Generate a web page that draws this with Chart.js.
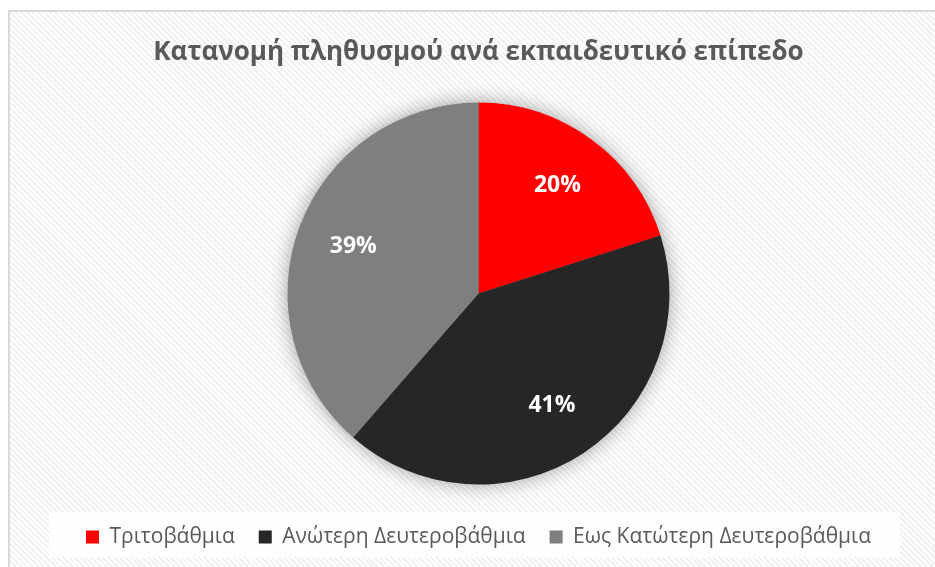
<!DOCTYPE html>
<html>
<head>
<meta charset="utf-8">
<script src="https://cdn.jsdelivr.net/npm/chart.js@4.4.1/dist/chart.umd.min.js"></script>
<style>
  html, body { margin: 0; padding: 0; }
  body {
    width: 935px; height: 567px; overflow: hidden; position: relative;
    background: #ffffff;
  }
  #frame {
    position: absolute; left: 8px; top: 10px; width: 940px; height: 570px;
    border-left: 2px solid #d9d9d9; border-top: 2px solid #d9d9d9;
    background: repeating-linear-gradient(45deg, #ffffff 0px, #ffffff 2px, #f1f1f1 2px, #f1f1f1 4px);
  }
  #wrap { position: absolute; left: 0; top: 0; width: 935px; height: 567px; }
</style>
</head>
<body>
<div id="frame"></div>
<div id="wrap"><canvas id="c" width="935" height="567"></canvas></div>
<script>
const chartTitle = 'Κατανομή πληθυσμού ανά εκπαιδευτικό επίπεδο';
const categories = ['Τριτοβάθμια', 'Ανώτερη Δευτεροβάθμια', 'Εως Κατώτερη Δευτεροβάθμια'];
const shares = [20.1, 41.3, 38.6];
const percentLabels = ['20%', '41%', '39%'];
const sliceColors = ['#ff0000', '#262626', '#7f7f7f'];

const pieExtras = {
  id: 'pieExtras',
  beforeDraw(chart) {
    const ctx = chart.ctx;
    // legend box background
    const hb = chart.legend && chart.legend.legendHitBoxes;
    if (hb && hb.length) {
      const first = hb[0], last = hb[hb.length - 1];
      const left = first.left - 37;
      const right = last.left + last.width + 29;
      const top = first.top - 14;
      const bottom = first.top + first.height + 10;
      ctx.save();
      ctx.fillStyle = 'rgba(255,255,255,0.82)';
      ctx.fillRect(left, top, right - left, bottom - top);
      ctx.restore();
    }
    // soft shadow behind the pie
    const arc = chart.getDatasetMeta(0).data[0];
    if (arc) {
      ctx.save();
      ctx.shadowColor = 'rgba(0,0,0,0.4)';
      ctx.shadowBlur = 20;
      ctx.beginPath();
      ctx.arc(arc.x, arc.y, arc.outerRadius - 1, 0, Math.PI * 2);
      ctx.fillStyle = '#777';
      ctx.fill();
      ctx.restore();
    }
  },
  afterDatasetsDraw(chart) {
    const ctx = chart.ctx;
    const meta = chart.getDatasetMeta(0);
    ctx.save();
    ctx.fillStyle = '#ffffff';
    ctx.font = 'bold 23px "Open Sans", "Noto Sans", sans-serif';
    ctx.textAlign = 'center';
    ctx.textBaseline = 'middle';
    meta.data.forEach((a, i) => {
      const mid = (a.startAngle + a.endAngle) / 2;
      const r = a.outerRadius * 0.7;
      ctx.fillText(percentLabels[i], a.x + Math.cos(mid) * r, a.y + Math.sin(mid) * r);
    });
    ctx.restore();
  }
};

new Chart(document.getElementById('c'), {
  type: 'pie',
  data: {
    labels: categories,
    datasets: [{
      data: shares,
      backgroundColor: sliceColors,
      borderWidth: 0,
      radius: 191
    }]
  },
  options: {
    responsive: false,
    animation: false,
    layout: { padding: { left: 22, right: 0, top: 0, bottom: 9.5 } },
    plugins: {
      title: {
        display: true,
        text: chartTitle,
        color: '#595959',
        font: { family: '"Open Sans", "Noto Sans", sans-serif', size: 26, weight: 'bold', lineHeight: 1.2 },
        padding: { top: 37, bottom: 16.3 }
      },
      legend: {
        position: 'bottom',
        labels: {
          color: '#595959',
          font: { family: '"Open Sans", "Noto Sans", sans-serif', size: 21 },
          boxWidth: 13,
          boxHeight: 13,
          padding: 24
        }
      },
      tooltip: { enabled: false }
    }
  },
  plugins: [pieExtras]
});
</script>
</body>
</html>
